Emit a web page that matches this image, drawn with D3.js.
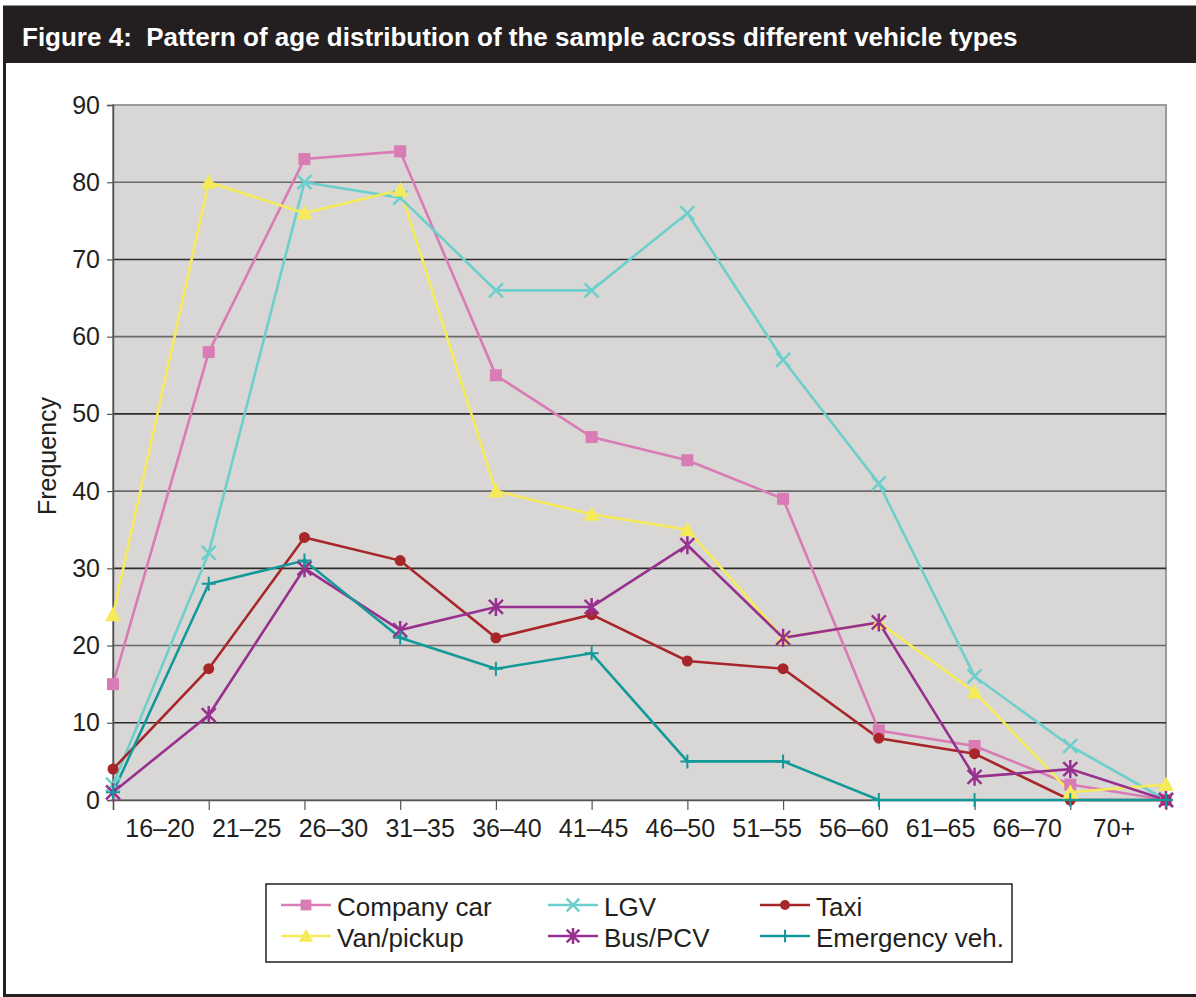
<!DOCTYPE html>
<html>
<head>
<meta charset="utf-8">
<script src="https://cdn.jsdelivr.net/npm/d3@7"></script>
<style>
  body { margin: 0; background: #fff; }
  svg text { font-family: "Liberation Sans", Arial, sans-serif; fill: #231f20; }
</style>
</head>
<body>
<div id="app"></div>
<script>
const ageGroups = ["16–20", "21–25", "26–30", "31–35", "36–40", "41–45", "46–50", "51–55", "56–60", "61–65", "66–70", "70+"];
const yTicks = [0, 10, 20, 30, 40, 50, 60, 70, 80, 90];

const companyCar = [15, 58, 83, 84, 55, 47, 44, 39, 9, 7, 2, 0];
const lgv = [2, 32, 80, 78, 66, 66, 76, 57, 41, 16, 7, 0];
const taxi = [4, 17, 34, 31, 21, 24, 18, 17, 8, 6, 0, 0];
const vanPickup = [24, 80, 76, 79, 40, 37, 35, 21, 23, 14, 1, 2];
const busPcv = [1, 11, 30, 22, 25, 25, 33, 21, 23, 3, 4, 0];
const emergency = [1, 28, 31, 21, 17, 19, 5, 5, 0, 0, 0, 0];

const seriesNames = ["Company car", "LGV", "Taxi", "Van/pickup", "Bus/PCV", "Emergency veh."];

const series = [
    { name: seriesNames[0], values: companyCar, color: "#d97bb4", marker: "square" },
    { name: seriesNames[1], values: lgv, color: "#6dcfcc", marker: "x" },
    { name: seriesNames[2], values: taxi, color: "#a8262a", marker: "circle" },
    { name: seriesNames[3], values: vanPickup, color: "#f5eb5a", marker: "triangle" },
    { name: seriesNames[4], values: busPcv, color: "#98308f", marker: "star" },
    { name: seriesNames[5], values: emergency, color: "#13999a", marker: "plus" }
];

const w = 1196,
      h = 997;

const plot = { left: 113, right: 1166, top: 105, bottom: 800 };

const svg = d3.select("#app")
    .append("svg")
    .attr("width", w)
    .attr("height", h);

// outer frame
svg.append("rect")
    .attr("x", 4.5).attr("y", 7)
    .attr("width", w).attr("height", 988.5)
    .attr("fill", "#fff")
    .attr("stroke", "#231f20")
    .attr("stroke-width", 3);

// title bar
svg.append("rect")
    .attr("x", 3).attr("y", 7)
    .attr("width", w - 3).attr("height", 56)
    .attr("fill", "#231f20");

svg.append("text")
    .attr("x", 22)
    .attr("y", 46)
    .attr("font-size", "26px")
    .attr("font-weight", "bold")
    .style("fill", "#fff")
    .attr("xml:space", "preserve")
    .text("Figure 4:  Pattern of age distribution of the sample across different vehicle types");

const xScale = d3.scalePoint()
    .domain(d3.range(ageGroups.length))
    .range([plot.left, plot.right]);

// category labels sit a little off the points, as in the printed figure
const labelScale = d3.scalePoint()
    .domain(d3.range(ageGroups.length))
    .range([160, 1114]);

const yScale = d3.scaleLinear()
    .domain([0, 90])
    .range([plot.bottom, plot.top]);

// plot background
svg.append("rect")
    .attr("x", plot.left).attr("y", plot.top)
    .attr("width", plot.right - plot.left)
    .attr("height", plot.bottom - plot.top)
    .attr("fill", "#d8d7d6")
    .attr("stroke", "#9a9a9a")
    .attr("stroke-width", 2);

// gridlines
svg.append("g")
    .selectAll("line")
    .data(yTicks.filter(d => d > 0 && d < 90))
    .enter()
    .append("line")
    .attr("x1", plot.left).attr("x2", plot.right)
    .attr("y1", d => yScale(d)).attr("y2", d => yScale(d))
    .attr("stroke", d => d % 20 === 0 ? "#6b6a6a" : "#2e2c2c")
    .attr("stroke-width", 1.6);

// y axis
const yAxis = d3.axisLeft(yScale)
    .tickValues(yTicks)
    .tickSize(6)
    .tickPadding(7);

const yG = svg.append("g")
    .attr("transform", `translate(${plot.left}, 0)`)
    .call(yAxis);
yG.select(".domain").attr("stroke", "#555").attr("stroke-width", 1.5);
yG.selectAll(".tick line").attr("stroke", "#555").attr("stroke-width", 1.2);
yG.selectAll(".tick text")
    .attr("font-size", "25px")
    .attr("font-family", "Liberation Sans, Arial, sans-serif")
    .style("fill", "#231f20");

// x axis
const xAxis = d3.axisBottom(xScale)
    .tickSize(10)
    .tickFormat("");

const xG = svg.append("g")
    .attr("transform", `translate(0, ${plot.bottom})`)
    .call(xAxis);
xG.select(".domain").attr("stroke", "#555").attr("stroke-width", 1.5);
xG.selectAll(".tick line").attr("stroke", "#555").attr("stroke-width", 1.2);

svg.append("g")
    .selectAll("text")
    .data(ageGroups)
    .enter()
    .append("text")
    .attr("x", (d, i) => labelScale(i))
    .attr("y", 837)
    .attr("text-anchor", "middle")
    .attr("font-size", "25px")
    .text(d => d);

// y label
svg.append("text")
    .attr("text-anchor", "middle")
    .attr("transform", "translate(56, 456) rotate(-90)")
    .attr("font-size", "25px")
    .text("Frequency");

// markers
function drawMarker(g, type, color, s = 1) {
    if (type === "square") {
        g.append("rect").attr("x", -6 * s).attr("y", -6 * s).attr("width", 12 * s).attr("height", 12 * s).attr("fill", color);
    } else if (type === "circle") {
        g.append("circle").attr("r", 5.5 * s).attr("fill", color);
    } else if (type === "triangle") {
        g.append("path").attr("d", `M0,${-8 * s}L${8 * s},${6.5 * s}L${-8 * s},${6.5 * s}Z`).attr("fill", color);
    } else if (type === "x") {
        g.append("path").attr("d", `M${-7 * s},${-7 * s}L${7 * s},${7 * s}M${-7 * s},${7 * s}L${7 * s},${-7 * s}`)
            .attr("stroke", color).attr("stroke-width", 2.5);
    } else if (type === "star") {
        g.append("path").attr("d", `M${-7 * s},${-7 * s}L${7 * s},${7 * s}M${-7 * s},${7 * s}L${7 * s},${-7 * s}M0,${-9 * s}L0,${9 * s}`)
            .attr("stroke", color).attr("stroke-width", 2.5);
    } else if (type === "plus") {
        g.append("path").attr("d", `M0,${-7 * s}L0,${7 * s}M${-7 * s},0L${7 * s},0`)
            .attr("stroke", color).attr("stroke-width", 2);
    }
}

const line = d3.line()
    .x((d, i) => xScale(i))
    .y(d => yScale(d));

const seriesG = svg.append("g");

series.forEach(s => {
    seriesG.append("path")
        .datum(s.values)
        .attr("d", line)
        .attr("fill", "none")
        .attr("stroke", s.color)
        .attr("stroke-width", 2.6);
});

series.forEach(s => {
    s.values.forEach((v, i) => {
        const g = seriesG.append("g")
            .attr("transform", `translate(${xScale(i)}, ${yScale(v)})`);
        drawMarker(g, s.marker, s.color);
    });
});

// legend
const legend = svg.append("g")
    .attr("transform", "translate(266, 884)");

legend.append("rect")
    .attr("width", 746)
    .attr("height", 78)
    .attr("fill", "#fff")
    .attr("stroke", "#231f20")
    .attr("stroke-width", 1.5);

const colX = [15, 282, 494];
series.forEach((s, k) => {
    const col = k % 3, row = Math.floor(k / 3);
    const gx = colX[col], gy = 21 + row * 31;
    const item = legend.append("g").attr("transform", `translate(${gx}, ${gy})`);
    item.append("line")
        .attr("x1", 0).attr("x2", 50)
        .attr("stroke", s.color)
        .attr("stroke-width", 2.6);
    const m = item.append("g").attr("transform", "translate(25, 0)");
    drawMarker(m, s.marker, s.color, 0.9);
    item.append("text")
        .attr("x", 56)
        .attr("y", 11)
        .attr("font-size", "26px")
        .text(s.name);
});
</script>
</body>
</html>
